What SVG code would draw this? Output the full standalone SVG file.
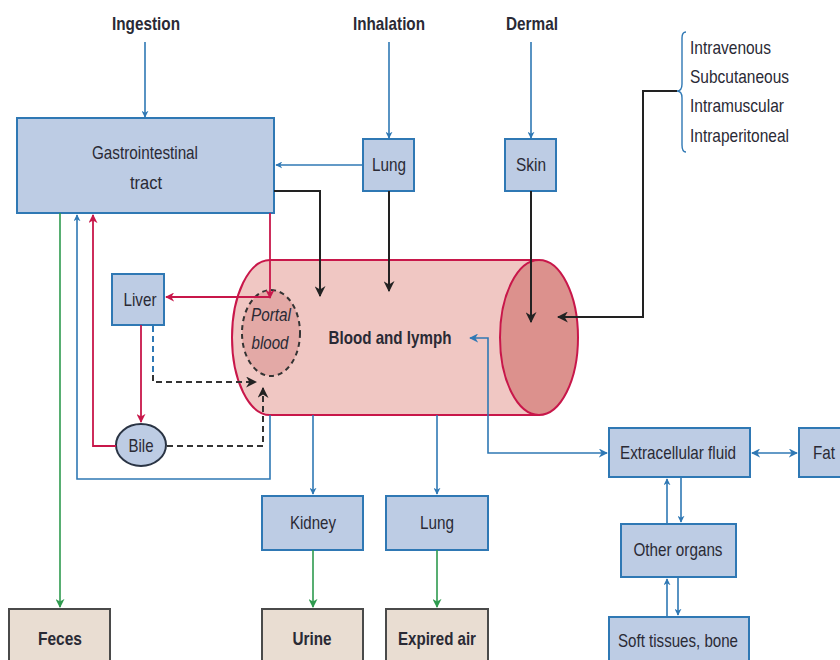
<svg xmlns="http://www.w3.org/2000/svg" width="840" height="660" viewBox="0 0 840 660">
<style>
text{font-family:"Liberation Sans",Arial,sans-serif;font-size:18.5px;fill:#2a2a35;text-anchor:middle}
.b{font-weight:bold}
.l{text-anchor:start}
.box{fill:#bdcce4;stroke:#2f78b4;stroke-width:2}
.out{fill:#e9ddd2;stroke:#4a4a4a;stroke-width:2}
.bl{stroke:#2f78b4;stroke-width:1.6;fill:none}
.pk{stroke:#c8174a;stroke-width:1.8;fill:none}
.gr{stroke:#2e9a4e;stroke-width:1.6;fill:none}
.bk{stroke:#222;stroke-width:2;fill:none}
.dk{stroke:#333;stroke-width:2;fill:none;stroke-dasharray:6,4}
.db{stroke:#2f78b4;stroke-width:2;fill:none;stroke-dasharray:6,4}
</style>
<defs>
<marker id="ab" viewBox="0 0 10 10" refX="9" refY="5" markerWidth="7" markerHeight="7" orient="auto-start-reverse" markerUnits="userSpaceOnUse"><path d="M0,0 L10,5 L0,10 L3,5 z" fill="#2f78b4"/></marker>
<marker id="ap" viewBox="0 0 10 10" refX="9" refY="5" markerWidth="9" markerHeight="9" orient="auto" markerUnits="userSpaceOnUse"><path d="M0,0 L10,5 L0,10 L3,5 z" fill="#c8174a"/></marker>
<marker id="ag" viewBox="0 0 10 10" refX="9" refY="5" markerWidth="9" markerHeight="9" orient="auto" markerUnits="userSpaceOnUse"><path d="M0,0 L10,5 L0,10 L3,5 z" fill="#2e9a4e"/></marker>
<marker id="ak" viewBox="0 0 10 10" refX="9" refY="5" markerWidth="11" markerHeight="11" orient="auto" markerUnits="userSpaceOnUse"><path d="M0,0 L10,5 L0,10 L3,5 z" fill="#222"/></marker>
<marker id="ab2" viewBox="0 0 10 10" refX="9" refY="5" markerWidth="9" markerHeight="9" orient="auto-start-reverse" markerUnits="userSpaceOnUse"><path d="M0,0 L10,5 L0,10 L3,5 z" fill="#2f78b4"/></marker>
</defs>

<g id="cylinder">
<path d="M270,260 H539 V415 H270 A38,77.5 0 0 1 270,260 Z" fill="#f0c7c3" stroke="#c8174a" stroke-width="2"/>
<ellipse cx="539" cy="337.5" rx="39" ry="77.5" fill="#dc918d" stroke="#c8174a" stroke-width="2"/>
<text x="390" y="344" class="b" textLength="123" lengthAdjust="spacingAndGlyphs">Blood and lymph</text>
</g>
<g id="portal">
<ellipse cx="271" cy="333" rx="29" ry="43" fill="#e3a9a6" stroke="#333" stroke-width="2" stroke-dasharray="5,4"/>
<text x="271" y="321" font-style="italic" textLength="40" lengthAdjust="spacingAndGlyphs">Portal</text>
<text x="270" y="349" font-style="italic" textLength="37" lengthAdjust="spacingAndGlyphs">blood</text>
</g>

<g id="labels">
<text x="146" y="30" class="b" textLength="68" lengthAdjust="spacingAndGlyphs">Ingestion</text>
<text x="389" y="30" class="b" textLength="72" lengthAdjust="spacingAndGlyphs">Inhalation</text>
<text x="532" y="30" class="b" textLength="52" lengthAdjust="spacingAndGlyphs">Dermal</text>
<text x="690" y="54" class="l" textLength="81" lengthAdjust="spacingAndGlyphs">Intravenous</text>
<text x="690" y="83" class="l" textLength="99" lengthAdjust="spacingAndGlyphs">Subcutaneous</text>
<text x="690" y="112" class="l" textLength="94" lengthAdjust="spacingAndGlyphs">Intramuscular</text>
<text x="690" y="142" class="l" textLength="99" lengthAdjust="spacingAndGlyphs">Intraperitoneal</text>
<path d="M686,32 Q682,32 682,38 V84 Q682,91 677,91 Q682,91 682,98 V145 Q682,152 686,152" fill="none" stroke="#2f78b4" stroke-width="1.4"/>
</g>

<g id="gi"><rect x="17" y="118" width="257" height="95" class="box"/><text x="145" y="159" textLength="106" lengthAdjust="spacingAndGlyphs">Gastrointestinal</text><text x="146" y="189" textLength="32" lengthAdjust="spacingAndGlyphs">tract</text></g>
<g id="lung1"><rect x="363" y="139" width="51" height="52" class="box"/><text x="389" y="171" textLength="34" lengthAdjust="spacingAndGlyphs">Lung</text></g>
<g id="skin"><rect x="505" y="139" width="51" height="52" class="box"/><text x="531" y="171" textLength="30" lengthAdjust="spacingAndGlyphs">Skin</text></g>
<g id="liver"><rect x="112" y="274" width="52" height="51" class="box"/><text x="140" y="306" textLength="33" lengthAdjust="spacingAndGlyphs">Liver</text></g>
<g id="bile"><ellipse cx="141" cy="445" rx="25" ry="21" fill="#bdcce4" stroke="#2a3444" stroke-width="2"/><text x="141" y="452" textLength="25" lengthAdjust="spacingAndGlyphs">Bile</text></g>
<g id="kidney"><rect x="262" y="496" width="101" height="54" class="box"/><text x="313" y="529" textLength="46" lengthAdjust="spacingAndGlyphs">Kidney</text></g>
<g id="lung2"><rect x="386" y="496" width="102" height="54" class="box"/><text x="437" y="529" textLength="34" lengthAdjust="spacingAndGlyphs">Lung</text></g>
<g id="ecf"><rect x="609" y="428" width="141" height="49" class="box"/><text x="678" y="459" textLength="116" lengthAdjust="spacingAndGlyphs">Extracellular fluid</text></g>
<g id="fat"><rect x="799" y="428" width="52" height="49" class="box"/><text x="824" y="459" textLength="22" lengthAdjust="spacingAndGlyphs">Fat</text></g>
<g id="other"><rect x="621" y="524" width="115" height="53" class="box"/><text x="678" y="556" textLength="89" lengthAdjust="spacingAndGlyphs">Other organs</text></g>
<g id="soft"><rect x="609" y="617" width="140" height="50" class="box"/><text x="678" y="647" textLength="120" lengthAdjust="spacingAndGlyphs">Soft tissues, bone</text></g>
<g id="feces"><rect x="9" y="609" width="101" height="58" class="out"/><text x="60" y="645" class="b" textLength="44" lengthAdjust="spacingAndGlyphs">Feces</text></g>
<g id="urine"><rect x="262" y="609" width="101" height="58" class="out"/><text x="312" y="645" class="b" textLength="39" lengthAdjust="spacingAndGlyphs">Urine</text></g>
<g id="expired"><rect x="386" y="609" width="102" height="58" class="out"/><text x="437" y="645" class="b" textLength="78" lengthAdjust="spacingAndGlyphs">Expired air</text></g>

<g id="connectors">
<path d="M145,42 V117" class="bl" marker-end="url(#ab)"/>
<path d="M389,42 V138" class="bl" marker-end="url(#ab)"/>
<path d="M531,42 V138" class="bl" marker-end="url(#ab)"/>
<path d="M363,165 H276" class="bl" marker-end="url(#ab)"/>
<path d="M274,191 H320 V296" class="bk" marker-end="url(#ak)"/>
<path d="M389,191 V291" class="bk" marker-end="url(#ak)"/>
<path d="M531,191 V322" class="bk" marker-end="url(#ak)"/>
<path d="M677,91 H643 V317 H558" class="bk" marker-end="url(#ak)"/>
<path d="M270,213 V298" class="pk" marker-end="url(#ap)"/>
<path d="M270,297 H166" class="pk" marker-end="url(#ap)"/>
<path d="M141,325 V422" class="pk" marker-end="url(#ap)"/>
<path d="M116,446 H93 V215" class="pk" marker-end="url(#ap)"/>
<path d="M153,326 V372" class="db"/>
<path d="M153,375 V382 H256" class="dk" marker-end="url(#ak)"/>
<path d="M167,446 H263 V388" class="dk" marker-end="url(#ak)"/>
<path d="M270,415 V479 H77 V215" class="bl" marker-end="url(#ab)"/>
<path d="M60,213 V607" class="gr" marker-end="url(#ag)"/>
<path d="M313,415 V494" class="bl" marker-end="url(#ab)"/>
<path d="M437,415 V494" class="bl" marker-end="url(#ab)"/>
<path d="M313,550 V607" class="gr" marker-end="url(#ag)"/>
<path d="M437,550 V607" class="gr" marker-end="url(#ag)"/>
<path d="M470,338 H488 V453 H607" class="bl" stroke-width="2" marker-start="url(#ab2)" marker-end="url(#ab2)"/>
<path d="M752,453 H797" class="bl" stroke-width="2" marker-start="url(#ab2)" marker-end="url(#ab2)"/>
<path d="M667,523 V479" class="bl" marker-end="url(#ab)"/>
<path d="M681,478 V522" class="bl" marker-end="url(#ab)"/>
<path d="M667,616 V579" class="bl" marker-end="url(#ab)"/>
<path d="M678,578 V615" class="bl" marker-end="url(#ab)"/>
</g>
</svg>
